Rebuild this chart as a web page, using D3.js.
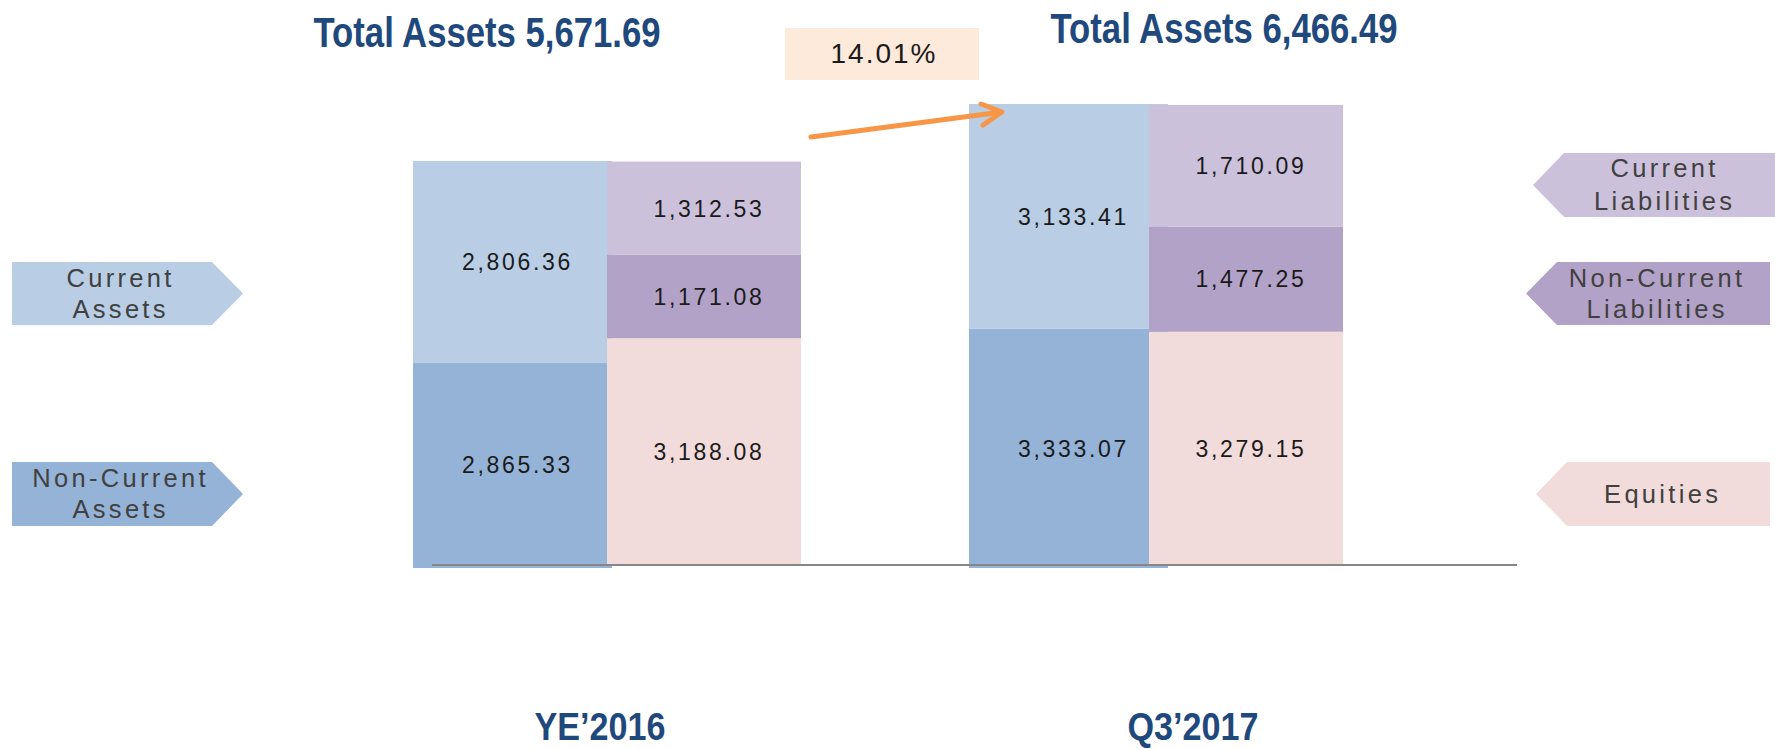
<!DOCTYPE html>
<html><head><meta charset="utf-8">
<script src="https://cdn.jsdelivr.net/npm/d3@7"></script>
<style>html,body{margin:0;padding:0;background:#fff;} svg{display:block;}</style>
</head><body><svg id="c" width="1775" height="749"></svg>
<script>
// ---- data ----
const categories = ["YE\u20192016", "Q3\u20192017"];
const currentAssets = [2806.36, 3133.41];
const nonCurrentAssets = [2865.33, 3333.07];
const currentLiabilities = [1312.53, 1710.09];
const nonCurrentLiabilities = [1171.08, 1477.25];
const equities = [3188.08, 3279.15];
const totalAssets = [5671.69, 6466.49];
const assetKeys = ["Non-Current Assets", "Current Assets"];
const liabKeys = ["Equities", "Non-Current Liabilities", "Current Liabilities"];

// ---- styles ----
const colors = {
  "Current Assets": "#B9CDE5",
  "Non-Current Assets": "#95B3D7",
  "Current Liabilities": "#CCC1DA",
  "Non-Current Liabilities": "#B3A2C7",
  "Equities": "#F2DCDB"
};
const titleColor = "#1F497D";
const fmt = d3.format(",.2f");

const svg = d3.select("#c");
svg.append("rect").attr("width", 1775).attr("height", 749).attr("fill", "#fff");

const ymax = d3.max(totalAssets);
const yA = d3.scaleLinear().domain([0, ymax]).range([568, 104]);
const yL = d3.scaleLinear().domain([0, ymax]).range([565, 105]);
const xA = d3.scaleBand().domain(categories).range([413, 1525]);
const xL = d3.scaleBand().domain(categories).range([607, 1691]);
const wA = 199, wL = 194;

const rowsA = categories.map((c, i) => ({cat: c, "Non-Current Assets": nonCurrentAssets[i], "Current Assets": currentAssets[i]}));
const rowsL = categories.map((c, i) => ({cat: c, "Equities": equities[i], "Non-Current Liabilities": nonCurrentLiabilities[i], "Current Liabilities": currentLiabilities[i]}));
const stackA = d3.stack().keys(assetKeys)(rowsA);
const stackL = d3.stack().keys(liabKeys)(rowsL);

function drawStack(stack, x, y, w) {
  const g = svg.append("g");
  stack.forEach(layer => {
    g.selectAll(null).data(layer).enter().append("rect")
      .attr("x", d => x(d.data.cat))
      .attr("width", w)
      .attr("y", d => y(d[1]))
      .attr("height", d => y(d[0]) - y(d[1]))
      .attr("fill", colors[layer.key]);
  });
  stack.forEach(layer => {
    g.selectAll(null).data(layer).enter().append("text")
      .attr("x", d => x(d.data.cat) + w / 2 + 5)
      .attr("y", d => (y(d[0]) + y(d[1])) / 2 + 8.3)
      .attr("text-anchor", "middle")
      .attr("font-family", "Liberation Sans, Arial, sans-serif")
      .attr("font-size", 23)
      .attr("letter-spacing", "2.7px")
      .attr("fill", "#1a1a1a")
      .text(d => fmt(d[1] - d[0]));
  });
}
drawStack(stackA, xA, yA, wA);
drawStack(stackL, xL, yL, wL);

// baseline
svg.append("line").attr("x1", 432).attr("x2", 1517).attr("y1", 565).attr("y2", 565)
  .attr("stroke", "#868686").attr("stroke-width", 2);

// titles
const xTitle = d3.scalePoint().domain(categories).range([487, 1224]);
svg.selectAll(null).data(categories).enter().append("text")
  .attr("x", d => xTitle(d))
  .attr("y", (d, i) => 47 - 4 * i)
  .attr("text-anchor", "middle")
  .attr("font-family", "Liberation Sans, Arial, sans-serif")
  .attr("font-weight", "bold")
  .attr("font-size", 42)
  .attr("textLength", 347)
  .attr("lengthAdjust", "spacingAndGlyphs")
  .attr("fill", titleColor)
  .text((d, i) => "Total Assets " + fmt(totalAssets[i]));

// category labels
const xCat = d3.scalePoint().domain(categories).range([600, 1193]);
svg.selectAll(null).data(categories).enter().append("text")
  .attr("x", d => xCat(d))
  .attr("y", 740)
  .attr("text-anchor", "middle")
  .attr("font-family", "Liberation Sans, Arial, sans-serif")
  .attr("font-weight", "bold")
  .attr("font-size", 38)
  .attr("textLength", 131)
  .attr("lengthAdjust", "spacingAndGlyphs")
  .attr("fill", titleColor)
  .text(d => d);

// growth box + arrow
const growth = d3.format(".2%")(totalAssets[1] / totalAssets[0] - 1);
svg.append("rect").attr("x", 785).attr("y", 28).attr("width", 194).attr("height", 52).attr("fill", "#FDEADA");
svg.append("text").attr("x", 884).attr("y", 63).attr("text-anchor", "middle")
  .attr("font-family", "Liberation Sans, Arial, sans-serif").attr("font-size", 28)
  .attr("letter-spacing", "2px").attr("fill", "#1a1a1a").text(growth);

const tipX = xA(categories[1]) + 33, tipY = yA(totalAssets[1]) + 8;
const startX = xL(categories[0]) + wL + 10, startY = yL(totalAssets[0]) - 24.5;
const arrow = svg.append("g").attr("stroke", "#F79646").attr("stroke-width", 5)
  .attr("fill", "none").attr("stroke-linecap", "round").attr("stroke-linejoin", "round");
arrow.append("path").attr("d", `M${startX},${startY}L${tipX - 2},${tipY + 0.3}`);
arrow.append("path").attr("d", `M${tipX - 21},${tipY - 8}L${tipX},${tipY}L${tipX - 19},${tipY + 13}`);

// side labels
const labelFont = {family: "Liberation Sans, Arial, sans-serif", size: 25.5, ls: 3.3};
function sideLabel(pts, fill, cx, lines, baselines) {
  svg.append("polygon").attr("points", pts.map(p => p.join(",")).join(" ")).attr("fill", fill);
  lines.forEach((t, i) => {
    svg.append("text").attr("x", cx + labelFont.ls / 2).attr("y", baselines[i])
      .attr("text-anchor", "middle").attr("font-family", labelFont.family)
      .attr("font-size", labelFont.size).attr("letter-spacing", labelFont.ls + "px")
      .attr("fill", "#404040").text(t);
  });
}
sideLabel([[12,262],[212,262],[243,293.5],[212,325],[12,325]], colors["Current Assets"], 119, ["Current", "Assets"], [287, 318]);
sideLabel([[12,462],[212,462],[243,494],[212,526],[12,526]], colors["Non-Current Assets"], 119, ["Non-Current", "Assets"], [487, 518]);
sideLabel([[1533,185],[1564,153],[1776,153],[1776,217],[1564,217]], colors["Current Liabilities"], 1663, ["Current", "Liabilities"], [177, 210]);
sideLabel([[1526,293.5],[1557,262],[1770,262],[1770,325],[1557,325]], colors["Non-Current Liabilities"], 1655.5, ["Non-Current", "Liabilities"], [287, 318]);
sideLabel([[1536,494],[1567,462],[1770,462],[1770,526],[1567,526]], colors["Equities"], 1661, ["Equities"], [503]);
</script>
</body></html>
